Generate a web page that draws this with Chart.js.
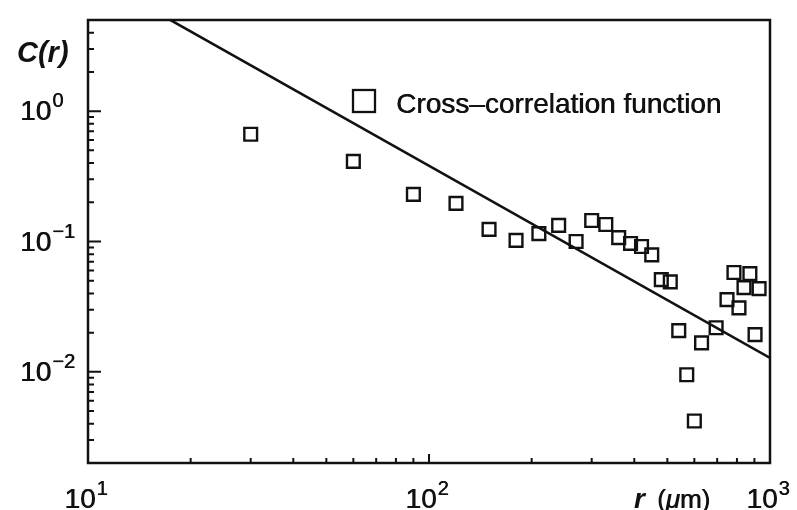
<!DOCTYPE html>
<html lang="en">
<head>
<meta charset="utf-8">
<title>Cross-correlation function</title>
<script src="https://cdn.jsdelivr.net/npm/chart.js@4.4.0/dist/chart.umd.min.js"></script>
<style>
  html, body { margin: 0; padding: 0; background: #fff; }
  #wrap { width: 797px; height: 510px; }
</style>
</head>
<body>
<div id="wrap"><canvas id="grafico" width="797" height="510"></canvas></div>
<script>
// ==================== DATOS ====================

// r (um) y C(r)
const radios = [30, 60, 90, 120, 150, 180, 210, 240, 270, 300, 330, 360, 390, 420, 450,
  480, 510, 540, 570, 600, 630, 695, 748, 784, 811, 839, 873, 904, 929];
const correlacion = [0.665, 0.412, 0.230, 0.196, 0.124, 0.102, 0.115, 0.133, 0.100, 0.145,
  0.135, 0.107, 0.0966, 0.0916, 0.079, 0.051, 0.049, 0.0207, 0.0095, 0.0042, 0.0167,
  0.0218, 0.0358, 0.0578, 0.031, 0.0443, 0.0567, 0.0193, 0.0435];

// recta de ajuste (extremos visibles)
const ajusteR = [17.2, 1000];
const ajusteC = [5.1, 0.0128];

// ejes
const limitesX = [10, 1000];
const limitesY = [0.002, 5];
const ticksX = [10, 100, 1000];
const etiquetasX = [['10', '1'], ['10', '2'], ['10', '3']];
const ticksY = [0.01, 0.1, 1];
const etiquetasY = [['10', '\u22122'], ['10', '\u22121'], ['10', '0']];

const textoLeyenda = 'Cross\u2013correlation function';
const FUENTE = '"Liberation Sans", Arial, Helvetica, sans-serif';
const NEGRO = '#111';

// ==================== UTILIDADES ====================

function menores(min, max) {
  const vals = [];
  for (let d = Math.pow(10, Math.floor(Math.log10(min))); d < max; d *= 10) {
    for (let k = 2; k <= 9; k++) {
      const v = d * k;
      if (v > min && v < max) vals.push(v);
    }
  }
  return vals;
}

// texto algo mas grueso (doble pasada), como el escaneo original
function texto(ctx, s, x, y) {
  ctx.fillText(s, x, y);
  ctx.fillText(s, x + 0.6, y);
}

// dibuja "10" con exponente
function dibujarPotencia(ctx, base, exp, x, yBase, alinear) {
  ctx.font = '28px ' + FUENTE;
  const wBase = ctx.measureText(base).width;
  ctx.font = '20px ' + FUENTE;
  const wExp = ctx.measureText(exp).width;
  const total = wBase + 1 + wExp;
  let x0 = x;
  if (alinear === 'center') x0 = x - total / 2;
  ctx.textAlign = 'left';
  ctx.textBaseline = 'alphabetic';
  ctx.font = '28px ' + FUENTE;
  texto(ctx, base, x0, yBase);
  ctx.font = '20px ' + FUENTE;
  texto(ctx, exp, x0 + wBase + 1, yBase - 13);
}

// ==================== PLUGIN DE EJES ====================

const pluginEjes = {
  id: 'ejes',
  afterDraw(chart) {
    const { ctx, chartArea: a, scales } = chart;
    const sx = scales.x;
    const sy = scales.y;
    ctx.save();
    ctx.strokeStyle = NEGRO;
    ctx.fillStyle = NEGRO;

    // marco
    ctx.lineWidth = 2.5;
    ctx.strokeRect(a.left, a.top, a.right - a.left, a.bottom - a.top);

    // ticks hacia dentro (izquierda y abajo)
    ctx.lineWidth = 2;
    ctx.beginPath();
    ticksY.forEach(v => {
      const py = sy.getPixelForValue(v);
      ctx.moveTo(a.left, py); ctx.lineTo(a.left + 13, py);
    });
    menores(limitesY[0], limitesY[1]).forEach(v => {
      const py = sy.getPixelForValue(v);
      ctx.moveTo(a.left, py); ctx.lineTo(a.left + 6, py);
    });
    ticksX.forEach(v => {
      const px = sx.getPixelForValue(v);
      ctx.moveTo(px, a.bottom); ctx.lineTo(px, a.bottom - 9);
    });
    menores(limitesX[0], limitesX[1]).forEach(v => {
      const px = sx.getPixelForValue(v);
      ctx.moveTo(px, a.bottom); ctx.lineTo(px, a.bottom - 5);
    });
    ctx.stroke();

    // etiquetas de ticks
    ticksY.forEach((v, i) => {
      const py = sy.getPixelForValue(v);
      dibujarPotencia(ctx, etiquetasY[i][0], etiquetasY[i][1], 20, py + 9, 'left');
    });
    ticksX.forEach((v, i) => {
      const px = sx.getPixelForValue(v);
      dibujarPotencia(ctx, etiquetasX[i][0], etiquetasX[i][1], px - 2, 508, 'center');
    });

    // titulos de ejes
    ctx.textAlign = 'left';
    ctx.font = 'italic bold 29px ' + FUENTE;
    ctx.fillText('C(r)', 17, 62);

    let xt = 634;
    ctx.font = 'italic bold 28px ' + FUENTE;
    ctx.fillText('r', xt, 508);
    xt += ctx.measureText('r').width + 12;
    ctx.font = '26px ' + FUENTE;
    texto(ctx, '(', xt, 508);
    xt += ctx.measureText('(').width;
    ctx.font = 'italic 26px ' + FUENTE;
    texto(ctx, '\u03bc', xt, 508);
    xt += ctx.measureText('\u03bc').width;
    ctx.font = '26px ' + FUENTE;
    texto(ctx, 'm)', xt, 508);

    // leyenda
    ctx.lineWidth = 2.3;
    ctx.strokeRect(353, 90, 22, 22);
    ctx.font = '28px ' + FUENTE;
    texto(ctx, textoLeyenda, 396, 113);

    ctx.restore();
  }
};

// ==================== GRAFICO ====================

function crearGrafico() {
  const ctx = document.getElementById('grafico').getContext('2d');

  new Chart(ctx, {
    type: 'scatter',
    data: {
      datasets: [
        {
          label: textoLeyenda,
          data: radios.map((r, i) => ({ x: r, y: correlacion[i] })),
          pointStyle: 'rect',
          pointRadius: 9,
          pointHoverRadius: 9,
          pointBackgroundColor: 'rgba(0,0,0,0)',
          pointBorderColor: NEGRO,
          pointBorderWidth: 2.4,
          showLine: false
        },
        {
          label: 'ajuste',
          data: ajusteR.map((r, i) => ({ x: r, y: ajusteC[i] })),
          showLine: true,
          borderColor: NEGRO,
          borderWidth: 2.6,
          pointRadius: 0,
          fill: false
        }
      ]
    },
    options: {
      responsive: false,
      animation: false,
      devicePixelRatio: 1,
      layout: { padding: { left: 80, right: 27, top: 20, bottom: 39 } },
      plugins: {
        legend: { display: false },
        tooltip: { enabled: false }
      },
      scales: {
        x: {
          type: 'logarithmic',
          min: limitesX[0],
          max: limitesX[1],
          ticks: { display: false },
          grid: { display: false },
          border: { display: false }
        },
        y: {
          type: 'logarithmic',
          min: limitesY[0],
          max: limitesY[1],
          ticks: { display: false },
          grid: { display: false },
          border: { display: false }
        }
      }
    },
    plugins: [pluginEjes]
  });
}

crearGrafico();
</script>
</body>
</html>
